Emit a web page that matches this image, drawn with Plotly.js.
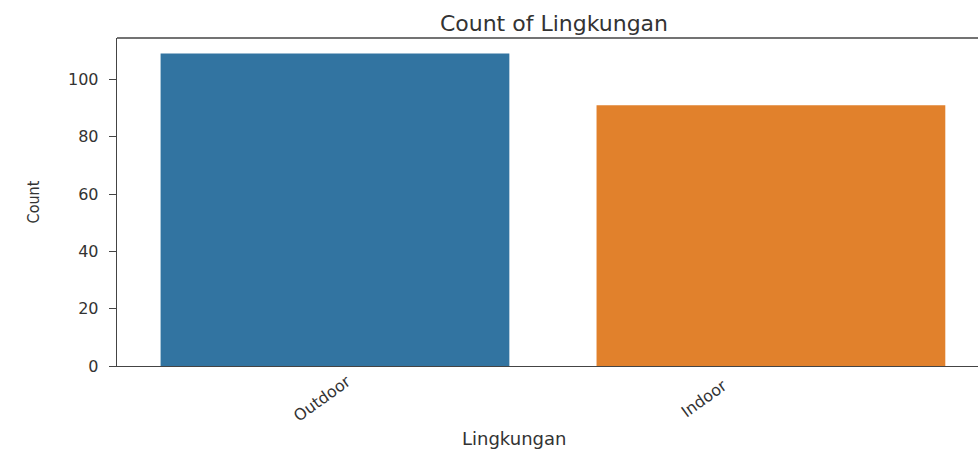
<!DOCTYPE html>
<html>
<head>
<meta charset="utf-8">
<script src="https://cdn.plot.ly/plotly-3.0.1.min.js"></script>
<style>html,body{margin:0;padding:0;background:#fff;}#chart{width:978px;height:450px;}</style>
</head>
<body>
<div id="chart"></div>
<script>
const categories = ["Outdoor", "Indoor"];
const counts = [109, 91];
const barColors = ["#3274a1", "#e1812c"];
const yTicks = [0, 20, 40, 60, 80, 100];

const font = "DejaVu Sans, sans-serif";

const data = [{
  type: "bar",
  x: categories,
  y: counts,
  marker: {color: barColors, line: {width: 0}},
  width: 0.8,
  hoverinfo: "x+y"
}];

const labelShifts = [-13, -67];
const tickAnnotations = categories.map((c, i) => ({
  x: c, xref: "x", y: 0, yref: "paper",
  yshift: -32, xshift: labelShifts[i],
  xanchor: "center", yanchor: "middle",
  text: c, showarrow: false, textangle: -36,
  font: {family: font, size: 16, color: "#333"}
}));

const layout = {
  width: 978, height: 450,
  margin: {l: 117, r: 0, t: 38, b: 84},
  paper_bgcolor: "#fff", plot_bgcolor: "#fff",
  showlegend: false,
  bargap: 0.2,
  title: {
    text: "Count of Lingkungan",
    font: {family: font, size: 22, color: "#333"},
    x: 0.5075, xanchor: "center", xref: "paper",
    y: 1, yref: "paper", yanchor: "bottom", pad: {b: 7}
  },
  xaxis: {
    type: "category",
    range: [-0.5, 1.475],
    showticklabels: false,
    ticks: "", 
    showline: true, linecolor: "#444", linewidth: 1.3, mirror: false,
    showgrid: false, zeroline: false, fixedrange: true
  },
  yaxis: {
    range: [0, 114.45],
    tickvals: yTicks,
    ticktext: yTicks.map(String),
    ticks: "outside", ticklen: 7, tickcolor: "#444",
    ticklabelstandoff: 7,
    tickfont: {family: font, size: 16, color: "#333"},
    showline: true, linecolor: "#444", linewidth: 1.3,
    showgrid: false, zeroline: false, fixedrange: true,
    title: {text: "Count", font: {family: "Liberation Sans Narrow, DejaVu Sans Condensed, sans-serif", size: 16, color: "#333"}, standoff: 24}
  },
  shapes: [{
    type: "line", xref: "paper", yref: "paper",
    x0: 0, x1: 1, y0: 1, y1: 1,
    line: {color: "#444", width: 1.3}
  }],
  annotations: tickAnnotations.concat([{
    text: "Lingkungan", xref: "paper", yref: "paper",
    x: 0.461, y: 0, yshift: -72, xanchor: "center", yanchor: "middle",
    showarrow: false,
    font: {family: font, size: 18, color: "#333"}
  }])
};

Plotly.newPlot("chart", data, layout, {displayModeBar: false, staticPlot: true});
</script>
</body>
</html>
